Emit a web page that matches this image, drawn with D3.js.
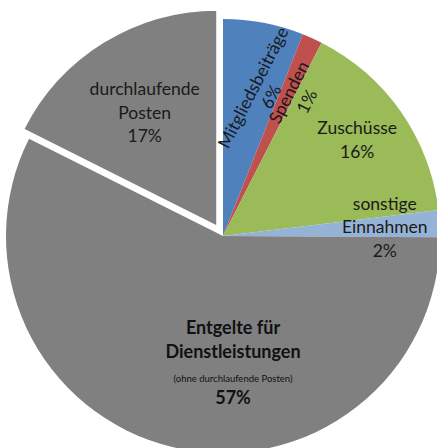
<!DOCTYPE html>
<html><head><meta charset="utf-8">
<script src="https://cdn.jsdelivr.net/npm/d3@7"></script>
<style>html,body{margin:0;padding:0;background:#fff;}svg{display:block;}</style>
</head><body>
<svg id="chart" width="437" height="448"></svg>
<script>
const categories = ["Mitgliedsbeiträge", "Spenden", "Zuschüsse", "sonstige Einnahmen", "Entgelte für Dienstleistungen", "durchlaufende Posten"];
const values = [6, 1.5, 15.6, 2, 57.3, 17.6];
const percentLabels = ["6%", "1%", "16%", "2%", "57%", "17%"];
const colors = ["#4F81BD", "#C0504D", "#9BBB59", "#95B3D7", "#808080", "#808080"];

const svg = d3.select("#chart");
const cx = 223, cy = 236, R = 217;
const explodeIndex = 5, explodeDist = 11;

const pie = d3.pie().sort(null).value(d => d).startAngle(0).endAngle(2 * Math.PI);
const arcs = pie(values);
const arc = d3.arc().innerRadius(0).outerRadius(R);

const g = svg.append("g").attr("transform", `translate(${cx},${cy})`);

function offsetOf(d, i) {
  if (i !== explodeIndex) return [0, 0];
  const a = (d.startAngle + d.endAngle) / 2;
  return [Math.sin(a) * explodeDist, -Math.cos(a) * explodeDist];
}

g.selectAll("path.slice").data(arcs).enter().append("path")
  .attr("class", "slice")
  .attr("d", arc)
  .attr("fill", (d, i) => colors[i])
  .attr("stroke", (d, i) => i === explodeIndex ? "#fff" : "none")
  .attr("stroke-width", 2)
  .attr("transform", (d, i) => { const o = offsetOf(d, i); return `translate(${o[0]},${o[1]})`; });

// label layout (polar: radius, angle in degrees clockwise from 12 o'clock; rotation)
const labelLayout = [
  { r: 149, a: 15.2, rot: -63, lh: 20 },
  { r: 158, a: 28.3, rot: -63, lh: 20 },
  { r: 165, a: 54.4, rot: 0, lh: 24 },
  { r: 162, a: 86.8, rot: 0, lh: 23.5 },
  null,
  { r: 135, a: 327.5, rot: 0, lh: 23.5 }
];
const labelLines = [
  [categories[0], percentLabels[0]],
  [categories[1], percentLabels[1]],
  [categories[2], percentLabels[2]],
  ["sonstige", "Einnahmen", percentLabels[3]],
  null,
  ["durchlaufende", "Posten", percentLabels[5]]
];
const font = "Lato, 'Open Sans', sans-serif";

arcs.forEach((d, i) => {
  const L = labelLayout[i];
  if (!L) return;
  const o = offsetOf(d, i);
  const a = L.a * Math.PI / 180;
  const x = o[0] + Math.sin(a) * L.r, y = o[1] - Math.cos(a) * L.r;
  const lines = labelLines[i];
  const t = g.append("text")
    .attr("transform", `translate(${x},${y}) rotate(${L.rot})`)
    .attr("text-anchor", "middle")
    .attr("font-family", font).attr("font-size", 17.5).attr("fill", "#1a1a1a");
  const n = lines.length;
  lines.forEach((s, k) => {
    t.append("tspan").attr("x", 0)
      .attr("y", (k - (n - 1) / 2) * L.lh)
      .attr("dy", "0.35em").text(s);
  });
});

// Entgelte label
const eg = g.append("g").attr("transform", "translate(10,0)")
  .attr("text-anchor", "middle").attr("font-family", font).attr("fill", "#111");
eg.append("text").attr("y", 92).attr("dy", "0.35em").attr("font-size", 18).attr("font-weight", "bold").text("Entgelte für");
eg.append("text").attr("y", 116).attr("dy", "0.35em").attr("font-size", 18).attr("font-weight", "bold").text("Dienstleistungen");
eg.append("text").attr("y", 143).attr("dy", "0.35em").attr("font-size", 9.5).text("(ohne durchlaufende Posten)");
eg.append("text").attr("y", 162).attr("dy", "0.35em").attr("font-size", 18).attr("font-weight", "bold").text(percentLabels[4]);
</script>
</body></html>
